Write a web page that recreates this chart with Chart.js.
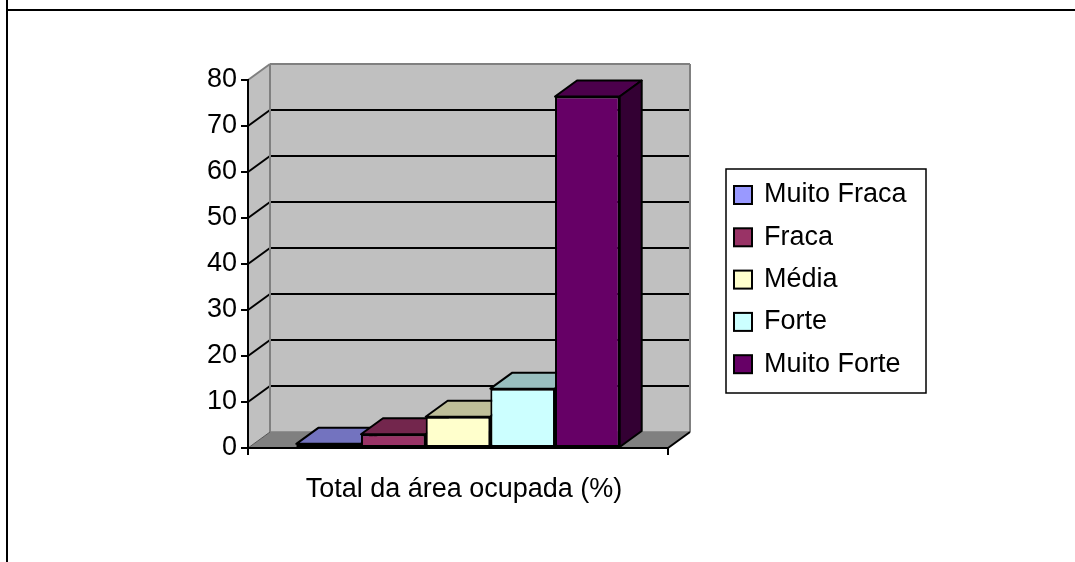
<!DOCTYPE html>
<html>
<head>
<meta charset="utf-8">
<script src="https://cdn.jsdelivr.net/npm/chart.js@4.4.1/dist/chart.umd.min.js"></script>
<style>
    html, body { margin: 0; padding: 0; background: #fff; }
    #wrap { position: relative; width: 1075px; height: 562px; }
</style>
</head>
<body>
<div id="wrap"><canvas id="grafico"></canvas></div>
<script>
// ========== DADOS ==========
const categorias = ["Total da área ocupada (%)"];
const classes = ["Muito Fraca", "Fraca", "Média", "Forte", "Muito Forte"];
const valores = [0.9, 3.0, 6.8, 12.9, 76.4];
const ticksY = [0, 10, 20, 30, 40, 50, 60, 70, 80];

const corFrente = ["#9999FF", "#993366", "#FFFFCC", "#CCFFFF", "#660066"];
const corTopo = ["#7373BF", "#73264D", "#BFBF99", "#99BFBF", "#4C004C"];
const corLado = ["#4D4D80", "#4D1A33", "#808066", "#668080", "#330033"];

const FONTE = "'Liberation Sans', Arial, sans-serif";
const PROF = { dx: 22, dy: 16 }; // profundidade do efeito 3D

function poligono(ctx, pts, fill, stroke, lw) {
    ctx.beginPath();
    ctx.moveTo(pts[0][0], pts[0][1]);
    for (let i = 1; i < pts.length; i++) ctx.lineTo(pts[i][0], pts[i][1]);
    ctx.closePath();
    if (fill) { ctx.fillStyle = fill; ctx.fill(); }
    if (stroke) { ctx.strokeStyle = stroke; ctx.lineWidth = lw || 1; ctx.stroke(); }
}

function linha(ctx, x1, y1, x2, y2, cor, lw) {
    ctx.beginPath();
    ctx.moveTo(x1, y1);
    ctx.lineTo(x2, y2);
    ctx.strokeStyle = cor;
    ctx.lineWidth = lw;
    ctx.stroke();
}

// ========== PLUGIN 3D ==========
const efeito3d = {
    id: "efeito3d",
    beforeDraw(chart) {
        const { ctx, chartArea: a } = chart;
        const y = chart.scales.y;
        const { dx, dy } = PROF;
        ctx.save();
        // moldura da página
        linha(ctx, 7, 0, 7, 562, "#000", 2);
        linha(ctx, 6, 10, 1075, 10, "#000", 2);

        // parede lateral, parede do fundo e chão
        poligono(ctx, [[a.left, a.top], [a.left + dx, a.top - dy], [a.left + dx, a.bottom - dy], [a.left, a.bottom]], "#C0C0C0");
        poligono(ctx, [[a.left + dx, a.top - dy], [a.right + dx, a.top - dy], [a.right + dx, a.bottom - dy], [a.left + dx, a.bottom - dy]], "#C0C0C0");
        poligono(ctx, [[a.left, a.bottom], [a.right, a.bottom], [a.right + dx, a.bottom - dy], [a.left + dx, a.bottom - dy]], "#808080");

        // linhas de grade
        y.ticks.forEach(t => {
            if (t.value <= 0 || t.value >= y.max) return;
            const py = y.getPixelForValue(t.value);
            linha(ctx, a.left, py, a.left + dx, py - dy, "#000", 2);
            linha(ctx, a.left + dx, py - dy, a.right + dx, py - dy, "#000", 2);
        });

        // contornos das paredes
        linha(ctx, a.left, a.top, a.left + dx, a.top - dy, "#808080", 2);
        linha(ctx, a.left + dx, a.top - dy, a.right + dx, a.top - dy, "#808080", 2);
        linha(ctx, a.left + dx, a.top - dy, a.left + dx, a.bottom - dy, "#808080", 2);
        linha(ctx, a.right + dx, a.top - dy, a.right + dx, a.bottom - dy, "#808080", 2);
        linha(ctx, a.left + dx, a.bottom - dy, a.right + dx, a.bottom - dy, "#808080", 1.5);
        linha(ctx, a.right, a.bottom, a.right + dx, a.bottom - dy, "#000", 2);
        linha(ctx, a.left, a.bottom, a.left + dx, a.bottom - dy, "#555", 1);
        ctx.restore();
    },
    beforeDatasetsDraw(chart) {
        const ctx = chart.ctx;
        const { dx, dy } = PROF;
        ctx.save();
        for (let i = 0; i < chart.data.datasets.length; i++) {
            const barra = chart.getDatasetMeta(i).data[0];
            const { x, y, base, width } = barra.getProps(["x", "y", "base", "width"], true);
            const l = x - width / 2, r = x + width / 2;
            ctx.lineJoin = "round";
            poligono(ctx, [[l, y], [r, y], [r + dx, y - dy], [l + dx, y - dy]], corTopo[i], "#000", 2);
            poligono(ctx, [[r, y], [r + dx, y - dy], [r + dx, base - dy], [r, base]], corLado[i], "#000", 2);
            barra.draw(ctx);
        }
        ctx.restore();
        return false;
    },
    afterDraw(chart) {
        const ctx = chart.ctx;
        ctx.save();
        // legenda
        ctx.fillStyle = "#fff";
        ctx.fillRect(726, 169, 200, 224);
        ctx.strokeStyle = "#000";
        ctx.lineWidth = 1.5;
        ctx.strokeRect(726, 169, 200, 224);
        ctx.font = "27px " + FONTE;
        ctx.textBaseline = "middle";
        ctx.textAlign = "left";
        chart.data.datasets.forEach((ds, i) => {
            const cy = 195 + i * 42.3;
            ctx.fillStyle = ds.backgroundColor;
            ctx.fillRect(734, cy - 9, 18, 18);
            ctx.lineWidth = 2;
            ctx.strokeRect(734, cy - 9, 18, 18);
            ctx.fillStyle = "#000";
            ctx.fillText(ds.label, 764, cy);
        });
        ctx.restore();
    }
};

// ========== GRÁFICO ==========
const ctx = document.getElementById("grafico").getContext("2d");
new Chart(ctx, {
    type: "bar",
    data: {
        labels: categorias,
        datasets: classes.map((nome, i) => ({
            label: nome,
            data: [valores[i]],
            backgroundColor: corFrente[i],
            borderColor: "#000",
            borderWidth: 2,
            borderSkipped: false,
            categoryPercentage: 0.77,
            barPercentage: 1.0,
        })),
    },
    options: {
        responsive: true,
        maintainAspectRatio: false,
        animation: false,
        events: [],
        layout: { padding: { left: 0, top: 80, right: 407, bottom: 0 } },
        plugins: { legend: { display: false }, tooltip: { enabled: false } },
        scales: {
            x: {
                afterFit: s => { s.height = 114; },
                grid: { drawOnChartArea: false, tickLength: 7, color: "#000", lineWidth: 2 },
                border: { color: "#000", width: 2 },
                ticks: { color: "#000", font: { family: FONTE, size: 27 }, padding: 18, labelOffset: 6 },
            },
            y: {
                min: 0,
                max: 80,
                afterFit: s => { s.width = 248; },
                afterBuildTicks: s => { s.ticks = ticksY.map(v => ({ value: v })); },
                grid: { drawOnChartArea: false, tickLength: 7, color: "#000", lineWidth: 2 },
                border: { color: "#000", width: 2 },
                ticks: { color: "#000", font: { family: FONTE, size: 27 }, padding: 4 },
            },
        },
    },
    plugins: [efeito3d],
});
</script>
</body>
</html>
